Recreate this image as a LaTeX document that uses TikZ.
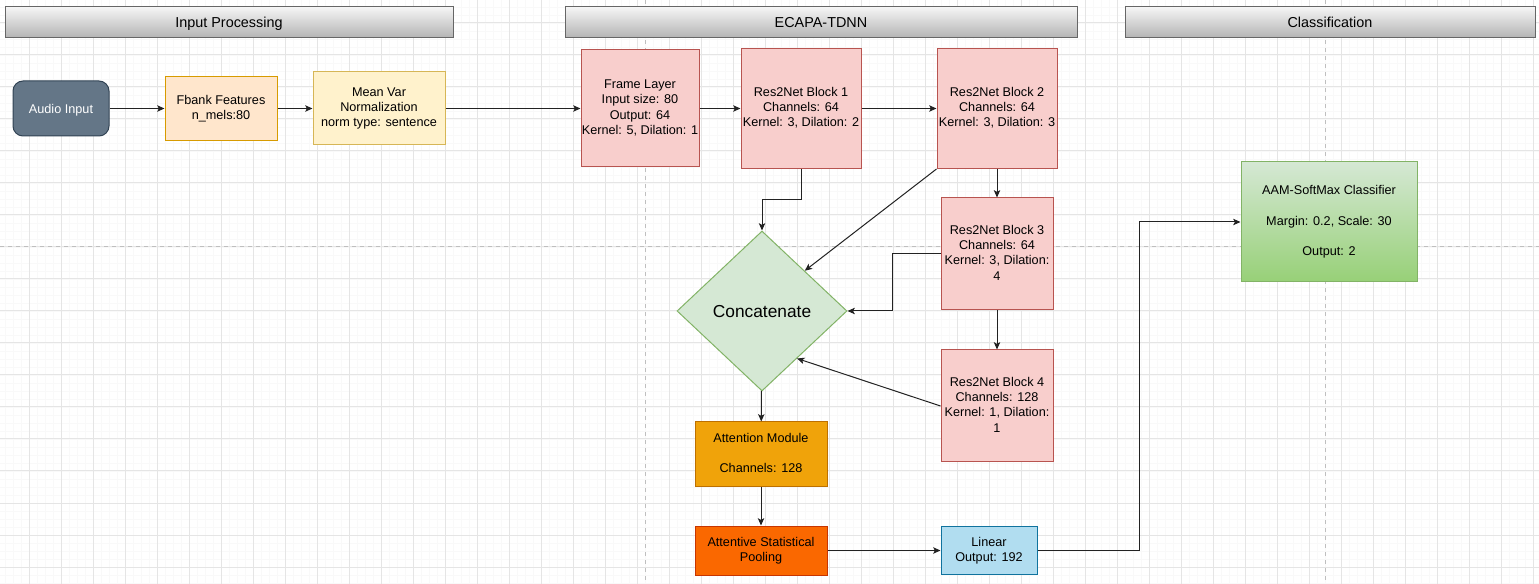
\documentclass[tikz,border=0pt]{standalone}
\usepackage{fontspec}
\setmainfont{Liberation Sans}
\usetikzlibrary{shapes.geometric,arrows.meta,calc}
\definecolor{slatefill}{HTML}{647687}
\definecolor{slateline}{HTML}{314354}
\definecolor{fbankfill}{HTML}{FFE6CC}
\definecolor{fbankline}{HTML}{D79B00}
\definecolor{normfill}{HTML}{FFF2CC}
\definecolor{normline}{HTML}{D6B656}
\definecolor{resfill}{HTML}{F8CECC}
\definecolor{resline}{HTML}{B85450}
\definecolor{catfill}{HTML}{D5E8D4}
\definecolor{catline}{HTML}{82B366}
\definecolor{catdark}{HTML}{97D077}
\definecolor{attfill}{HTML}{F0A30A}
\definecolor{attline}{HTML}{BD7000}
\definecolor{poolfill}{HTML}{FA6800}
\definecolor{poolline}{HTML}{C73500}
\definecolor{linfill}{HTML}{B1DDF0}
\definecolor{linline}{HTML}{10739E}
\definecolor{hdrtop}{HTML}{F5F5F5}
\definecolor{hdrbot}{HTML}{B3B3B3}
\definecolor{hdrline}{HTML}{666666}
\definecolor{wire}{HTML}{222222}
\newcommand{\topstrut}{\rule[-0.212em]{0pt}{1.15em}}
\newcommand{\botstrut}{\rule[-0.212em]{0pt}{1.117em}}

\begin{document}
\begin{tikzpicture}[x=0.75pt,y=-0.75pt,
  every node/.style={font=\fontsize{9.5}{11.4}\selectfont, align=center, inner sep=0pt,
    execute at begin node=\topstrut, execute at end node=\botstrut},
  hdr/.style={draw=hdrline, top color=hdrtop, bottom color=hdrbot, line width=0.75pt, minimum height=23.25pt, font=\fontsize{10.8}{13}\selectfont},
  blk/.style={draw=#1line, fill=#1fill, line width=0.75pt},
  flow/.style={draw=wire, line width=0.75pt, -{Stealth[length=5.5pt,width=4.8pt,inset=1.3pt]}}]
\useasboundingbox (0,0) rectangle (1539,584);
\fill[white] (0,0) rectangle (1539,584);
% background grid
\foreach \x in {5.3,13.3,...,1539} \draw[black!2.5, line width=0.5pt] (\x,0) -- (\x,584);
\foreach \y in {7,15,...,584} \draw[black!2.5, line width=0.5pt] (0,\y) -- (1539,\y);
\foreach \x in {29.3,61.3,...,1539} \draw[black!10, line width=0.75pt] (\x,0) -- (\x,584);
\foreach \y in {23,55,...,584} \draw[black!10, line width=0.75pt] (0,\y) -- (1539,\y);
\draw[black!25, line width=0.75pt, dash pattern=on 3pt off 3pt] (645.5,0) -- (645.5,584) (1325,0) -- (1325,584) (0,247) -- (1539,247);

% section headers
\node[hdr, minimum width=336pt] (hdrin) at (229,22.5) {Input Processing};
\node[hdr, minimum width=384pt] (hdrecapa) at (821,22.5) {ECAPA-TDNN};
\node[hdr, minimum width=307.5pt] (hdrcls) at (1330,22.5) {Classification};

% input processing
\node[blk=slate, rounded corners=7.5pt, text=white, minimum width=72pt, minimum height=41.25pt] (audio) at (61,108.5) {Audio Input};
\node[blk=fbank, minimum width=84pt, minimum height=48pt] (fbank) at (221,108.5) {Fbank Features\\n\_mels:80};
\node[blk=norm, minimum width=99pt, minimum height=54.75pt] (norm) at (379,108.5) {Mean Var\\Normalization\\norm type: sentence};

% ECAPA-TDNN
\node[blk=res, minimum width=88.5pt, minimum height=87.75pt] (frame) at (640,108.5) {Frame Layer\\Input size: 80\\Output: 64\\Kernel: 5, Dilation: 1};
\node[blk=res, minimum width=90pt, minimum height=90pt] (res1) at (801,108.5) {Res2Net Block 1\\Channels: 64\\Kernel: 3, Dilation: 2};
\node[blk=res, minimum width=90pt, minimum height=90pt] (res2) at (997,108.5) {Res2Net Block 2\\Channels: 64\\Kernel: 3, Dilation: 3};
\node[blk=res, minimum width=84pt, minimum height=84pt] (res3) at (997,254) {Res2Net Block 3\\Channels: 64\\Kernel: 3, Dilation:\\4};
\node[blk=res, minimum width=84pt, minimum height=84pt] (res4) at (997,406) {Res2Net Block 4\\Channels: 128\\Kernel: 1, Dilation:\\1};
\node[blk=cat, diamond, minimum width=127.5pt, minimum height=120pt, font=\fontsize{13}{15.6}\selectfont] (concat) at (762,311) {Concatenate};
\node[blk=att, minimum width=99pt, minimum height=48.75pt] (att) at (761,454.5) {Attention Module\\[11.4pt]Channels: 128};
\node[blk=pool, minimum width=99pt, minimum height=36.75pt] (pool) at (761,550.5) {Attentive Statistical\\Pooling};
\node[blk=lin, minimum width=72pt, minimum height=36pt] (lin) at (989,550.5) {Linear\\Output: 192};

% classification
\node[draw=catline, top color=catfill, bottom color=catdark, line width=0.75pt, minimum width=132pt, minimum height=90pt] (aam) at (1329,222) {AAM-SoftMax Classifier\\[11.4pt]Margin: 0.2, Scale: 30\\[11.4pt]Output: 2};

% connectors
\draw[flow] (audio) -- (fbank);
\draw[flow] (fbank) -- (norm);
\draw[flow] (norm) -- (frame);
\draw[flow] (frame) -- (res1);
\draw[flow] (res1) -- (res2);
\draw[flow] (res1.south) -- ++(0,31) -| (concat.north);
\draw[flow] (res2.south west) -- (concat.north east);
\draw[flow] (res2) -- (res3);
\draw[flow] (res3.west) -- ++(-48,0) |- (concat.east);
\draw[flow] (res3) -- (res4);
\draw[flow] (res4.west) -- ($(concat.south)!0.41!(concat.east)$);
\draw[flow] (concat) -- (att);
\draw[flow] (att) -- (pool);
\draw[flow] (pool) -- (lin);
\draw[flow] (lin.east) -- ++(102,0) |- (aam.west);
\end{tikzpicture}
\end{document}
